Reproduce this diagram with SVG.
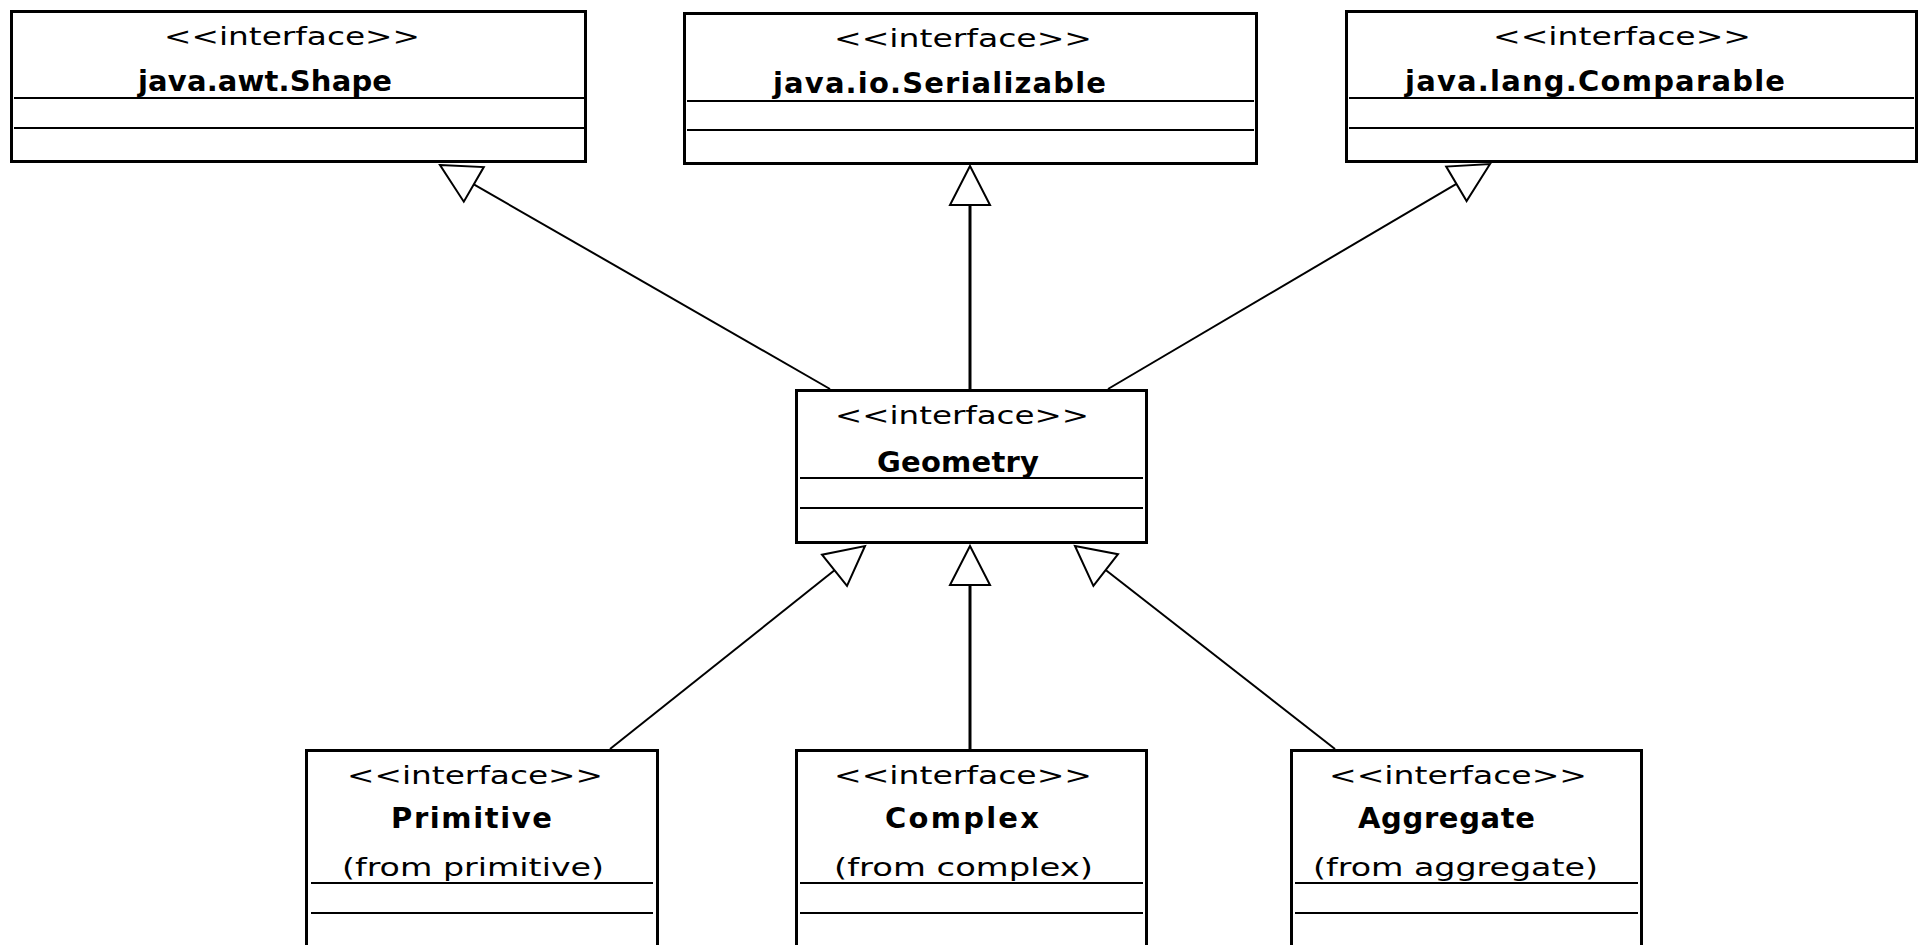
<svg xmlns="http://www.w3.org/2000/svg" width="1922" height="945" viewBox="0 0 1922 945">
  <style>
    .box { fill: #fff; stroke: #000; stroke-width: 3; }
    .sep { stroke: #000; stroke-width: 2; shape-rendering: crispEdges; }
    .st { font-family: "DejaVu Sans", "Liberation Sans", sans-serif; font-size: 24px; fill: #000; }
    .nm { font-family: "DejaVu Sans", "Liberation Sans", sans-serif; font-size: 29px; font-weight: bold; fill: #000; }
    .pk { font-family: "DejaVu Sans", "Liberation Sans", sans-serif; font-size: 25px; fill: #000; }
    .diag { stroke: #000; stroke-width: 2; fill: none; }
    .vert { stroke: #000; stroke-width: 3; fill: none; }
    .head { fill: #fff; stroke: #000; stroke-width: 2; stroke-linejoin: miter; }
  </style>

  <rect width="1922" height="945" fill="#fff"/>

  <!-- generalization connectors -->
  <g id="connectors">
    <!-- Geometry -> java.awt.Shape -->
    <line class="diag" x1="830" y1="389" x2="473.8" y2="184.4"/>
    <polygon class="head" points="440,165 483.8,167.1 463.8,201.7"/>
    <!-- Geometry -> java.io.Serializable -->
    <line class="vert" x1="970" y1="389" x2="970" y2="205"/>
    <polygon class="head" points="970,166 990,205 950,205"/>
    <!-- Geometry -> java.lang.Comparable -->
    <line class="diag" x1="1108" y1="389" x2="1456.4" y2="183.8"/>
    <polygon class="head" points="1490,164 1466.6,201 1446.2,166.6"/>
    <!-- Primitive -> Geometry -->
    <line class="diag" x1="610" y1="749" x2="834.5" y2="570.3"/>
    <polygon class="head" points="865,546 847,585.9 822,554.7"/>
    <!-- Complex -> Geometry -->
    <line class="vert" x1="970" y1="749" x2="970" y2="585"/>
    <polygon class="head" points="970,546 990,585 950,585"/>
    <!-- Aggregate -> Geometry -->
    <line class="diag" x1="1335" y1="749" x2="1105.7" y2="570"/>
    <polygon class="head" points="1075,546 1118,554.2 1093.4,585.8"/>
  </g>

  <g id="shape">
    <rect class="box" x="11.5" y="11.5" width="574" height="150"/>
    <text class="st" x="164" y="45" textLength="256" lengthAdjust="spacingAndGlyphs">&lt;&lt;interface&gt;&gt;</text>
    <text class="nm" x="138" y="91" textLength="254">java.awt.Shape</text>
    <line class="sep" x1="14" y1="98" x2="584" y2="98"/>
    <line class="sep" x1="14" y1="128" x2="584" y2="128"/>
  </g>

  <g id="serializable">
    <rect class="box" x="684.5" y="13.5" width="572" height="150"/>
    <text class="st" x="834" y="47" textLength="258" lengthAdjust="spacingAndGlyphs">&lt;&lt;interface&gt;&gt;</text>
    <text class="nm" x="773" y="93" textLength="333">java.io.Serializable</text>
    <line class="sep" x1="687" y1="101" x2="1254" y2="101"/>
    <line class="sep" x1="687" y1="130" x2="1254" y2="130"/>
  </g>

  <g id="comparable">
    <rect class="box" x="1346.5" y="11.5" width="570" height="150"/>
    <text class="st" x="1493" y="45" textLength="258" lengthAdjust="spacingAndGlyphs">&lt;&lt;interface&gt;&gt;</text>
    <text class="nm" x="1405" y="91" textLength="380">java.lang.Comparable</text>
    <line class="sep" x1="1349" y1="98" x2="1914" y2="98"/>
    <line class="sep" x1="1349" y1="128" x2="1914" y2="128"/>
  </g>

  <g id="geometry">
    <rect class="box" x="796.5" y="390.5" width="350" height="152"/>
    <text class="st" x="835" y="424" textLength="254" lengthAdjust="spacingAndGlyphs">&lt;&lt;interface&gt;&gt;</text>
    <text class="nm" x="877" y="472" textLength="162">Geometry</text>
    <line class="sep" x1="800" y1="478" x2="1143" y2="478"/>
    <line class="sep" x1="800" y1="508" x2="1143" y2="508"/>
  </g>

  <g id="primitive">
    <rect class="box" x="306.5" y="750.5" width="351" height="250"/>
    <text class="st" x="347" y="784" textLength="256" lengthAdjust="spacingAndGlyphs">&lt;&lt;interface&gt;&gt;</text>
    <text class="nm" x="391" y="828" textLength="161">Primitive</text>
    <text class="pk" x="342" y="876" textLength="262" lengthAdjust="spacingAndGlyphs">(from primitive)</text>
    <line class="sep" x1="311" y1="883" x2="653" y2="883"/>
    <line class="sep" x1="311" y1="913" x2="653" y2="913"/>
  </g>

  <g id="complex">
    <rect class="box" x="796.5" y="750.5" width="350" height="250"/>
    <text class="st" x="834" y="784" textLength="258" lengthAdjust="spacingAndGlyphs">&lt;&lt;interface&gt;&gt;</text>
    <text class="nm" x="885" y="828" textLength="154">Complex</text>
    <text class="pk" x="834" y="876" textLength="259" lengthAdjust="spacingAndGlyphs">(from complex)</text>
    <line class="sep" x1="800" y1="883" x2="1143" y2="883"/>
    <line class="sep" x1="800" y1="913" x2="1143" y2="913"/>
  </g>

  <g id="aggregate">
    <rect class="box" x="1291.5" y="750.5" width="350" height="250"/>
    <text class="st" x="1329" y="784" textLength="258" lengthAdjust="spacingAndGlyphs">&lt;&lt;interface&gt;&gt;</text>
    <text class="nm" x="1358" y="828" textLength="177">Aggregate</text>
    <text class="pk" x="1313" y="876" textLength="285" lengthAdjust="spacingAndGlyphs">(from aggregate)</text>
    <line class="sep" x1="1295" y1="883" x2="1638" y2="883"/>
    <line class="sep" x1="1295" y1="913" x2="1638" y2="913"/>
  </g>
</svg>
